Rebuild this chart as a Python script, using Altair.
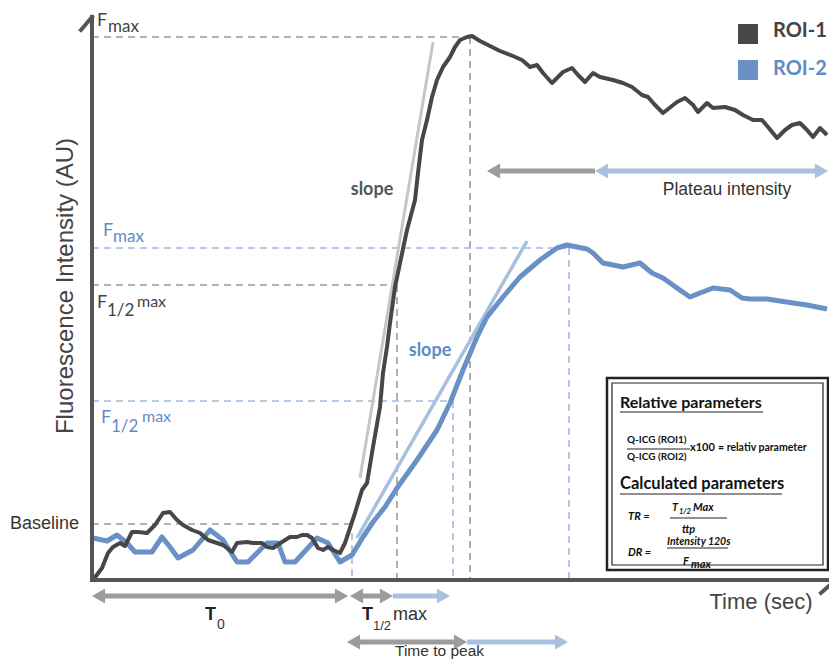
import altair as alt
import pandas as pd

# ---------------- data (time in arbitrary units, intensity in AU) ----------------
roi1_t = [1, 10, 16, 21, 28, 33, 40, 46, 55, 63, 71, 78, 85, 91, 100, 108, 116, 125, 131, 140,
          145, 155, 161, 170, 175, 181, 190, 198, 205, 210, 215, 220, 226, 231, 236, 241, 248, 253,
          258, 263, 270, 275, 281, 288, 291, 295, 298, 303, 308, 315, 323, 326, 330, 335, 340, 345,
          351, 358, 363, 368, 375, 380, 388, 398, 408, 421, 430, 438, 445, 451, 460, 471, 480, 486,
          493, 501, 508, 521, 531, 540, 550, 556, 563, 571, 585, 593, 601, 606, 615, 621, 633, 643,
          651, 661, 670, 676, 685, 693, 700, 708, 715, 721, 728, 735]
roi1_i = [0, 12, 27, 33, 37, 34, 48, 48, 47, 55, 67, 68, 60, 55, 50, 47, 40, 37, 35, 28,
          37, 38, 37, 37, 33, 32, 38, 43, 43, 45, 45, 42, 32, 30, 33, 30, 27, 37,
          52, 67, 90, 97, 133, 173, 207, 233, 257, 293, 317, 350, 380, 407, 440, 460, 483, 500,
          513, 523, 533, 540, 543, 544, 539, 534, 529, 524, 520, 513, 515, 507, 497, 508, 512, 505,
          498, 507, 503, 500, 497, 493, 485, 483, 475, 467, 478, 482, 475, 468, 477, 472, 473, 470,
          465, 460, 460, 453, 442, 450, 455, 457, 450, 443, 452, 445]

roi2_t = [1, 15, 25, 35, 43, 60, 70, 78, 86, 101, 118, 131, 145, 156, 175, 186, 193, 203, 225, 236,
          248, 260, 271, 281, 293, 305, 325, 345, 358, 371, 385, 395, 411, 428, 448, 465, 475, 495,
          501, 511, 531, 548, 560, 571, 585, 598, 608, 621, 638, 650, 658, 675, 688, 701, 715, 735]
roi2_i = [42, 39, 45, 37, 28, 28, 43, 33, 22, 30, 50, 40, 18, 18, 37, 37, 18, 18, 42, 37,
          18, 25, 43, 58, 73, 92, 120, 150, 177, 210, 243, 263, 283, 303, 320, 332, 335, 331,
          327, 317, 313, 317, 307, 302, 292, 283, 287, 292, 290, 282, 281, 281, 279, 277, 275, 271]

# characteristic values
ROI1_FMAX, ROI1_HALF, ROI1_T_HALF, ROI1_TTP = 543, 295, 305, 378
ROI2_FMAX, ROI2_HALF, ROI2_T_HALF, ROI2_TTP = 332, 179, 361, 477
BASELINE, T0_END = 56, 260

roi1_slope = [(268, 102, 341, 538)]
roi2_slope = [(265, 42, 435, 339)]

# arrows: start, end, level, colour, head at start, head at end
arrows = [
    (0, 256, -16, "gray", True, True),
    (258, 301, -16, "gray", True, True),
    (301, 358, -16, "blue", False, True),
    (255, 375, -62, "gray", True, True),
    (375, 476, -62, "blue", False, True),
    (395, 503, 409, "gray", True, False),
    (503, 736, 409, "blue", True, True),
]

# ---------------- styling ----------------
DARK = "#474747"
BLUE = "#6a91c6"
ARROW_COL = {"gray": "#9c9c9c", "blue": "#a9c1de"}
DASH_GRAY = "#9a9a9a"
DASH_BLUE = "#9fbadb"
AXIS = "#555555"
TXT = "#444444"
TXT_BLUE = "#5f8cc6"
SANS = "Liberation Sans"
CAL = "Lato"

X = alt.X("t:Q", scale=alt.Scale(domain=[-84, 737], nice=False, zero=False), axis=None)
Y = alt.Y("I:Q", scale=alt.Scale(domain=[-79, 572], nice=False, zero=False), axis=None)


def seg_layer(rows, color, width, dash=None, cap="butt"):
    df = pd.DataFrame(rows, columns=["t", "I", "t2", "I2"])
    kw = dict(color=color, strokeWidth=width, strokeCap=cap)
    if dash:
        kw["strokeDash"] = dash
    return alt.Chart(df).mark_rule(**kw).encode(x=X, y=Y, x2="t2:Q", y2="I2:Q")


def text_layer(rows, font, weight="normal", style="normal", align="left", angle=0,
               baseline="middle"):
    df = pd.DataFrame(rows, columns=["text", "t", "I", "size", "color"])
    return alt.Chart(df).mark_text(font=font, fontWeight=weight, fontStyle=style, align=align,
                                   baseline=baseline, angle=angle).encode(
        x=X, y=Y, text="text:N",
        size=alt.Size("size:Q", scale=None),
        color=alt.Color("color:N", scale=None))


def curve(ts, vs, color, width):
    df = pd.DataFrame({"t": ts, "I": vs, "k": range(len(ts))})
    return alt.Chart(df).mark_line(color=color, strokeWidth=width, strokeJoin="round").encode(
        x=X, y=Y, order="k:Q")


layers = []

# dashed guide lines
layers.append(seg_layer([
    (0, ROI1_FMAX, ROI1_TTP, ROI1_FMAX),
    (ROI1_TTP, ROI1_FMAX, ROI1_TTP, 0),
    (0, ROI1_HALF, ROI1_T_HALF, ROI1_HALF),
    (ROI1_T_HALF, ROI1_HALF, ROI1_T_HALF, 0),
    (0, BASELINE, T0_END, BASELINE),
], DASH_GRAY, 1.6, [7, 5]))
layers.append(seg_layer([
    (0, ROI2_FMAX, ROI2_TTP, ROI2_FMAX),
    (ROI2_TTP, ROI2_FMAX, ROI2_TTP, 0),
    (0, ROI2_HALF, ROI2_T_HALF, ROI2_HALF),
    (ROI2_T_HALF, ROI2_HALF, ROI2_T_HALF, 0),
    (T0_END, 47, T0_END, 0),
], DASH_BLUE, 1.6, [7, 5]))

# slope tangents
layers.append(seg_layer(roi1_slope, "#c6c6c6", 3))
layers.append(seg_layer(roi2_slope, "#a7c0de", 3.5))

# curves
layers.append(curve(roi2_t, roi2_i, BLUE, 5))
layers.append(curve(roi1_t, roi1_i, DARK, 4))

# axes
layers.append(seg_layer([(0, 0, 0, 563), (0, 0, 746, 0), (-11, 550, 0, 563), (729, -13, 738, -5)],
                        AXIS, 4, cap="square"))

# arrows
HEAD_HALF = 6.5
for key in ["gray", "blue"]:
    shafts, heads = [], []
    for s, e, lvl, col, hs, he in arrows:
        if col != key:
            continue
        a = s + HEAD_HALF if hs else s
        b = e - HEAD_HALF if he else e
        shafts.append((a, lvl, b, lvl))
        if hs:
            heads.append((s + HEAD_HALF, lvl, "triangle-left"))
        if he:
            heads.append((e - HEAD_HALF, lvl, "triangle-right"))
    layers.append(seg_layer(shafts, ARROW_COL[key], 5))
    hdf = pd.DataFrame(heads, columns=["t", "I", "shape"])
    layers.append(alt.Chart(hdf).mark_point(filled=True, size=230, opacity=1,
                                            color=ARROW_COL[key]).encode(
        x=X, y=Y, shape=alt.Shape("shape:N", scale=None)))

# legend squares
sq = pd.DataFrame({"t": [656, 656], "I": [546, 510], "c": [DARK, BLUE]})
layers.append(alt.Chart(sq).mark_square(size=400, opacity=1).encode(
    x=X, y=Y, color=alt.Color("c:N", scale=None)))

# parameter box (double border)
box = pd.DataFrame({"t": [515], "t2": [736], "I": [10], "I2": [202]})
inner = pd.DataFrame({"t": [520], "t2": [731], "I": [15], "I2": [197]})
layers.append(alt.Chart(box).mark_rect(fill="white", stroke="#222222", strokeWidth=2.5).encode(
    x=X, y=Y, x2="t2:Q", y2="I2:Q"))
layers.append(alt.Chart(inner).mark_rect(fill="white", stroke="#222222", strokeWidth=1.2).encode(
    x=X, y=Y, x2="t2:Q", y2="I2:Q"))
layers.append(seg_layer([
    (528, 168, 671, 168),
    (528, 86, 690, 86),
    (535, 131, 598, 131),
    (578, 62, 635, 62),
    (575, 32, 636, 32),
], "#222222", 1))

# ---------------- texts ----------------
layers.append(text_layer([
    ("Fluorescence Intensity (AU)", -26, 294, 24, TXT),
], SANS, align="center", angle=270))
layers.append(text_layer([
    ("Time (sec)", 669, -22, 22, TXT),
    ("Plateau intensity", 635, 390, 17.5, "#333333"),
], SANS, align="center"))
layers.append(text_layer([
    ("Time to peak", 303, -76, 15.5, "#333333"),
], SANS, baseline="alphabetic"))
layers.append(text_layer([
    ("Baseline", -82, 56, 18, "#333333"),
    ("0", 125, -45, 14, "#333333"),
    ("1/2", 281, -46, 13, "#333333"),
    ("max", 301, -35, 18, "#333333"),
], SANS))
layers.append(text_layer([
    ("T", 113, -35, 18, "#222222"),
    ("T", 270, -35, 18, "#222222"),
], SANS, weight="bold"))
layers.append(text_layer([
    ("slope", 280, 390, 18, "#555555"),
    ("slope", 338, 229, 18, TXT_BLUE),
], CAL, weight="bold", align="center"))
layers.append(text_layer([
    ("ROI-1", 681, 549, 20, TXT),
    ("ROI-2", 681, 511, 20, TXT_BLUE),
], CAL, weight="bold"))
layers.append(text_layer([
    ("F", 5, 559, 18, TXT),
    ("max", 16, 553, 17, TXT),
    ("F", 11, 349, 18, TXT_BLUE),
    ("max", 21, 343, 17, TXT_BLUE),
    ("F", 5, 277, 18, TXT),
    ("1/2", 15, 269, 17, TXT),
    ("max", 45, 278, 16, TXT),
    ("F", 9, 162, 18, TXT_BLUE),
    ("1/2", 19, 153, 17, TXT_BLUE),
    ("max", 50, 163, 16, TXT_BLUE),
], CAL))
# box contents
layers.append(text_layer([
    ("Relative parameters", 528, 177, 16, "#111111"),
    ("Calculated parameters", 528, 96, 16.5, "#111111"),
    ("Q-ICG (ROI1)", 535, 140, 10, "#111111"),
    ("Q-ICG (ROI2)", 535, 123, 10, "#111111"),
    ("x100", 598, 132, 11, "#111111"),
    ("= relativ parameter", 626, 132, 10.5, "#111111"),
], CAL, weight="bold"))
layers.append(text_layer([
    ("TR =", 536, 63, 11, "#111111"),
    ("T", 580, 72, 11, "#111111"),
    ("1/2", 587, 68, 7.5, "#111111"),
    ("Max", 601, 72, 11, "#111111"),
    ("ttp", 590, 50, 11, "#111111"),
    ("DR =", 536, 27, 11, "#111111"),
    ("Intensity 120s", 575, 38, 10.5, "#111111"),
    ("F", 591, 18, 11, "#111111"),
    ("max", 599, 15, 11, "#111111"),
], CAL, weight="bold", style="italic"))

chart = alt.layer(*layers).properties(
    width=821, height=651, padding=0, autosize=alt.AutoSizeParams(type="none"),
    background="white"
).configure_view(stroke=None)

chart.save("out.html", embed_options={"renderer": "svg", "actions": False})
